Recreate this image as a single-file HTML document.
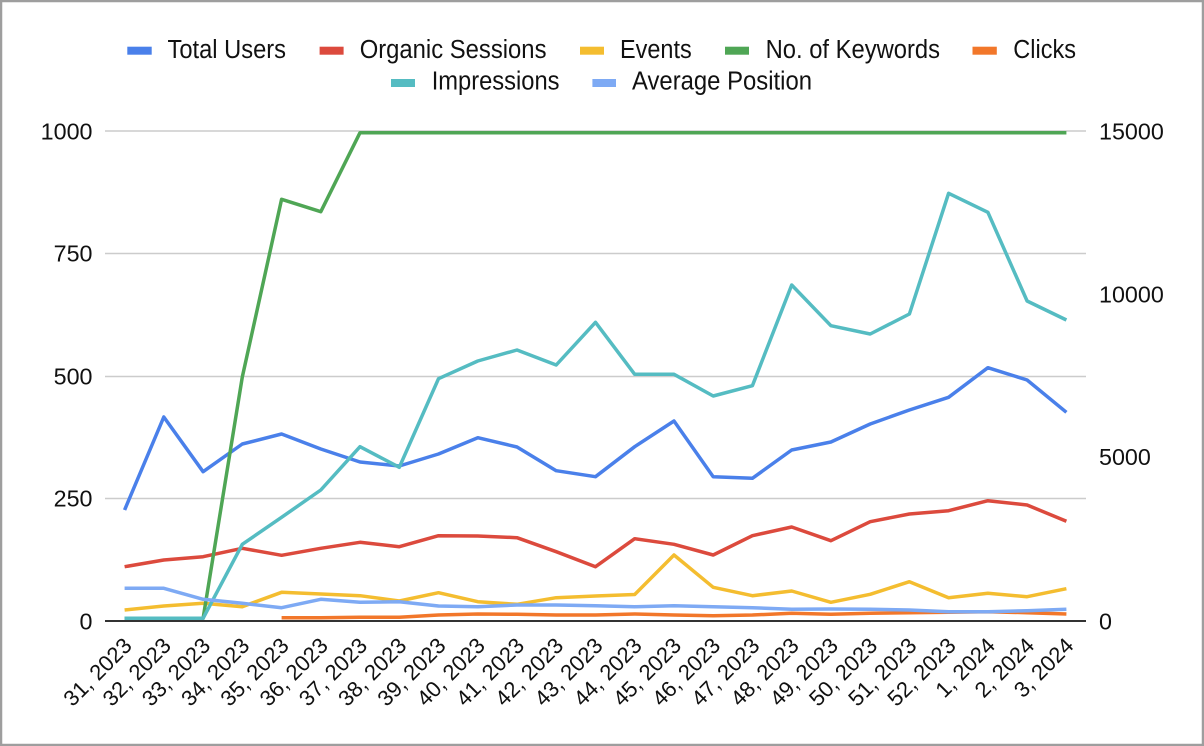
<!DOCTYPE html>
<html>
<head>
<meta charset="utf-8">
<style>
  html, body { margin: 0; padding: 0; background: #fff; }
  body { width: 1204px; height: 746px; overflow: hidden; }
  svg { display: block; }
  text { font-family: "Liberation Sans", Arial, sans-serif; fill: #111; }
</style>
</head>
<body>
<svg width="1204" height="746" viewBox="0 0 1204 746" xmlns="http://www.w3.org/2000/svg">
  <rect x="0" y="0" width="1204" height="746" fill="#fff"/>
  <rect x="1" y="1" width="1202" height="744" fill="none" stroke="#9e9e9e" stroke-width="2.5"/>

  <!-- Legend row 1 -->
  <g font-size="25.5">
    <rect x="127.3" y="46.7" width="24.4" height="8" fill="#4a80ea"/>
    <text x="167.5" y="57.8" textLength="118.5" lengthAdjust="spacingAndGlyphs">Total Users</text>
    <rect x="319.6" y="46.7" width="24" height="8" fill="#dc4a3d"/>
    <text x="359.7" y="57.8" textLength="186.8" lengthAdjust="spacingAndGlyphs">Organic Sessions</text>
    <rect x="580" y="46.7" width="24" height="8" fill="#f4bd30"/>
    <text x="620" y="57.8" textLength="71.7" lengthAdjust="spacingAndGlyphs">Events</text>
    <rect x="725" y="46.7" width="24" height="8" fill="#4fa655"/>
    <text x="765.6" y="57.8" textLength="174.4" lengthAdjust="spacingAndGlyphs">No. of Keywords</text>
    <rect x="972.5" y="46.7" width="24.3" height="8" fill="#f2772a"/>
    <text x="1013.3" y="57.8" textLength="62.7" lengthAdjust="spacingAndGlyphs">Clicks</text>
    <!-- row 2 -->
    <rect x="391" y="79" width="24" height="8" fill="#55bcc2"/>
    <text x="431.7" y="89.5" textLength="127.8" lengthAdjust="spacingAndGlyphs">Impressions</text>
    <rect x="592.4" y="79" width="23.6" height="8" fill="#7eaaf4"/>
    <text x="632" y="89.5" textLength="180" lengthAdjust="spacingAndGlyphs">Average Position</text>
  </g>

  <!-- Gridlines -->
  <g stroke="#cccccc" stroke-width="1.6">
    <line x1="105" y1="131" x2="1086" y2="131"/>
    <line x1="105" y1="253.5" x2="1086" y2="253.5"/>
    <line x1="105" y1="376.5" x2="1086" y2="376.5"/>
    <line x1="105" y1="498.5" x2="1086" y2="498.5"/>
  </g>

  <!-- Left axis labels -->
  <g font-size="23.3" text-anchor="end">
    <text x="92.5" y="139.5">1000</text>
    <text x="92.5" y="261.5">750</text>
    <text x="92.5" y="384.5">500</text>
    <text x="92.5" y="506.5">250</text>
    <text x="92.5" y="629.5">0</text>
  </g>
  <!-- Right axis labels -->
  <g font-size="23.3">
    <text x="1099" y="139.5">15000</text>
    <text x="1099" y="302.5">10000</text>
    <text x="1099" y="465">5000</text>
    <text x="1099" y="629.5">0</text>
  </g>

  <!-- Series -->
  <g fill="none" stroke-width="3.5" stroke-linejoin="round" stroke-linecap="butt">
    <!-- Total Users -->
    <polyline stroke="#4a80ea" points="124.6,510 163.8,417 203.1,471.7 242.3,444 281.6,434 320.8,449 360,462 399.3,466 438.5,454 477.8,437.7 517,447 556.2,470.7 595.5,476.7 634.7,446.7 674,421 713.2,476.7 752.4,478.3 791.7,450 830.9,442 870.2,424 909.4,410 948.6,397.3 987.9,367.7 1027.1,380 1066.4,412.3"/>
    <!-- Organic Sessions -->
    <polyline stroke="#dc4a3d" points="124.6,566.7 163.8,560 203.1,556.7 242.3,548.3 281.6,555.3 320.8,548.3 360,542.3 399.3,546.7 438.5,535.7 477.8,536 517,537.7 556.2,551.7 595.5,566.7 634.7,538.7 674,544.3 713.2,555 752.4,535.7 791.7,527 830.9,540.7 870.2,521.7 909.4,514 948.6,510.7 987.9,500.7 1027.1,505 1066.4,521.3"/>
    <!-- Events -->
    <polyline stroke="#f4bd30" points="124.6,610 163.8,606 203.1,603.3 242.3,606.7 281.6,592.3 320.8,594 360,595.7 399.3,601 438.5,592.7 477.8,601.7 517,604.3 556.2,597.7 595.5,596 634.7,594.5 674,555 713.2,587.3 752.4,595.7 791.7,591 830.9,602.3 870.2,594.3 909.4,581.7 948.6,597.7 987.9,593.3 1027.1,596.7 1066.4,588.7"/>
    <!-- No. of Keywords -->
    <polyline stroke="#4fa655" points="124.6,618.3 163.8,618.3 203.1,618.3 242.3,377 281.6,199.3 320.8,211.7 360,132.7 1066.4,132.7"/>
    <!-- Clicks -->
    <polyline stroke="#f2772a" points="281.6,617.7 320.8,617.7 360,617.3 399.3,617.3 438.5,615 477.8,614 517,614.3 556.2,615 595.5,615 634.7,614 674,615 713.2,615.7 752.4,615 791.7,613.3 830.9,614.3 870.2,613.3 909.4,612.7 948.6,612.3 987.9,611.7 1027.1,612.7 1066.4,614"/>
    <!-- Impressions -->
    <polyline stroke="#55bcc2" points="124.6,618.3 163.8,618.3 203.1,618.3 242.3,544.3 281.6,517.3 320.8,490 360,446.7 399.3,467.3 438.5,378.7 477.8,361 517,350 556.2,365 595.5,322.3 634.7,374.3 674,374.3 713.2,396 752.4,385.7 791.7,285 830.9,325.7 870.2,334 909.4,314 948.6,193.3 987.9,212.3 1027.1,301 1066.4,320"/>
    <!-- Average Position -->
    <polyline stroke="#7eaaf4" points="124.6,588.3 163.8,588.3 203.1,599.3 242.3,603.3 281.6,607.7 320.8,599.3 360,602.3 399.3,601.7 438.5,606 477.8,606.7 517,605 556.2,605 595.5,605.7 634.7,606.7 674,605.7 713.2,606.7 752.4,607.7 791.7,609.3 830.9,609 870.2,609.3 909.4,610 948.6,611.7 987.9,611.7 1027.1,610.7 1066.4,609.3"/>
  </g>

  <!-- Baseline -->
  <line x1="105" y1="621" x2="1086" y2="621" stroke="#333" stroke-width="2"/>

  <!-- X axis labels -->
  <g font-size="22" text-anchor="end">
    <text transform="translate(133.1,647) rotate(-45)">31, 2023</text>
    <text transform="translate(172.3,647) rotate(-45)">32, 2023</text>
    <text transform="translate(211.6,647) rotate(-45)">33, 2023</text>
    <text transform="translate(250.8,647) rotate(-45)">34, 2023</text>
    <text transform="translate(290.1,647) rotate(-45)">35, 2023</text>
    <text transform="translate(329.3,647) rotate(-45)">36, 2023</text>
    <text transform="translate(368.5,647) rotate(-45)">37, 2023</text>
    <text transform="translate(407.8,647) rotate(-45)">38, 2023</text>
    <text transform="translate(447,647) rotate(-45)">39, 2023</text>
    <text transform="translate(486.3,647) rotate(-45)">40, 2023</text>
    <text transform="translate(525.5,647) rotate(-45)">41, 2023</text>
    <text transform="translate(564.7,647) rotate(-45)">42, 2023</text>
    <text transform="translate(604,647) rotate(-45)">43, 2023</text>
    <text transform="translate(643.2,647) rotate(-45)">44, 2023</text>
    <text transform="translate(682.5,647) rotate(-45)">45, 2023</text>
    <text transform="translate(721.7,647) rotate(-45)">46, 2023</text>
    <text transform="translate(760.9,647) rotate(-45)">47, 2023</text>
    <text transform="translate(800.2,647) rotate(-45)">48, 2023</text>
    <text transform="translate(839.4,647) rotate(-45)">49, 2023</text>
    <text transform="translate(878.7,647) rotate(-45)">50, 2023</text>
    <text transform="translate(917.9,647) rotate(-45)">51, 2023</text>
    <text transform="translate(957.1,647) rotate(-45)">52, 2023</text>
    <text transform="translate(996.4,647) rotate(-45)">1, 2024</text>
    <text transform="translate(1035.6,647) rotate(-45)">2, 2024</text>
    <text transform="translate(1074.9,647) rotate(-45)">3, 2024</text>
  </g>
</svg>
</body>
</html>
